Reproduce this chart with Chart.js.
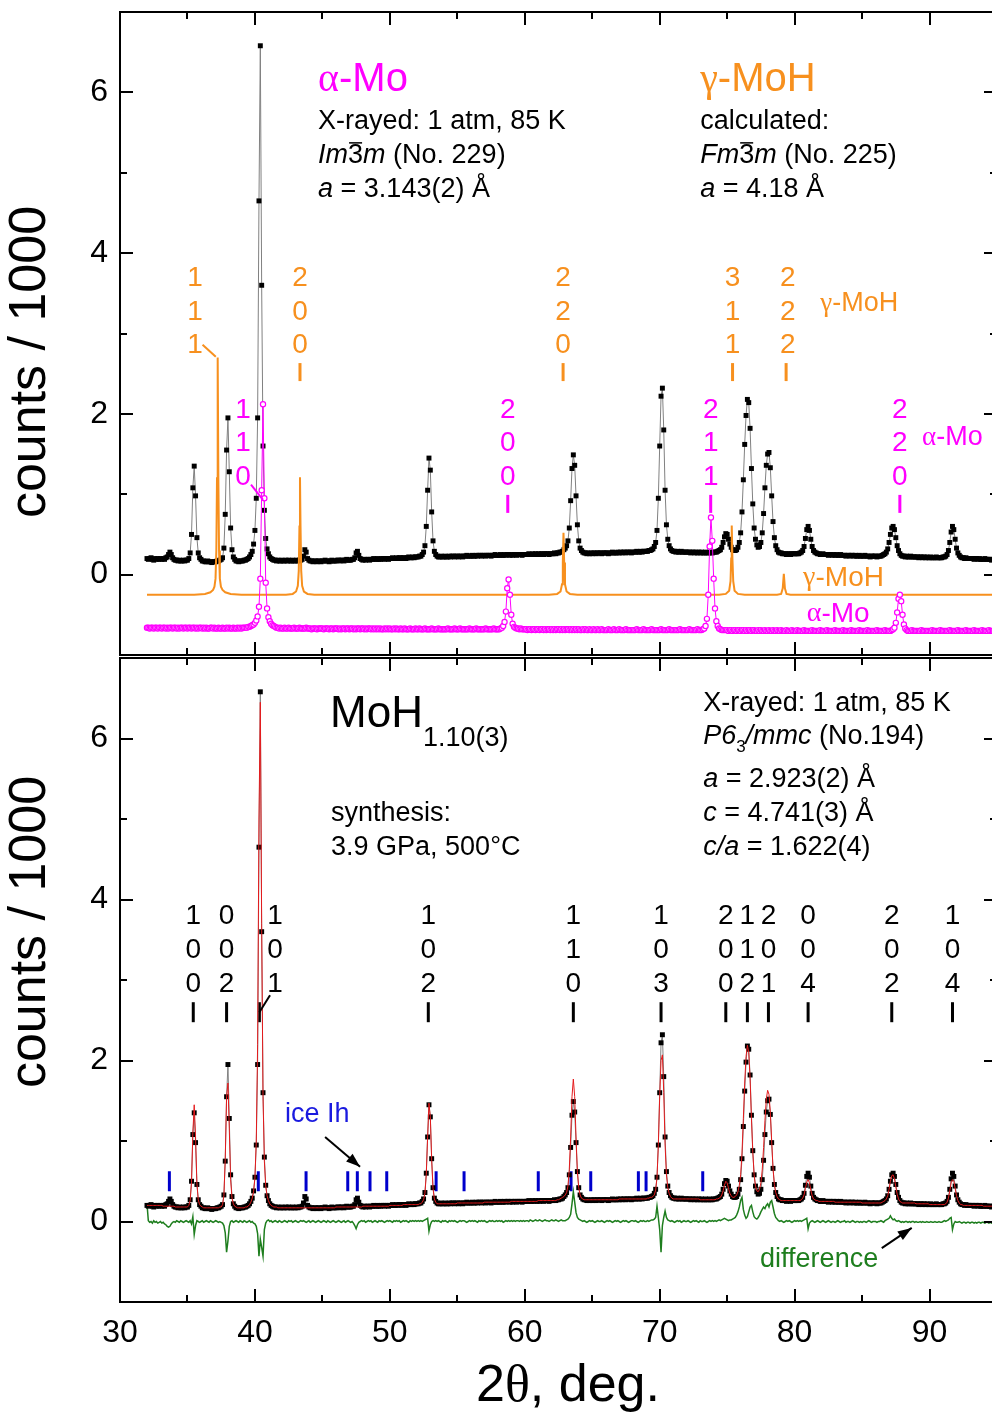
<!DOCTYPE html>
<html><head><meta charset="utf-8">
<script src="https://cdn.jsdelivr.net/npm/chart.js@4.4.1/dist/chart.umd.min.js"></script>
<style>
html,body{margin:0;padding:0;background:#fff;overflow:hidden;width:992px;height:1418px;}
#wrapA{position:absolute;left:0;top:0;width:1010px;height:667px;}
#wrapB{position:absolute;left:0;top:645px;width:1010px;height:773px;}
canvas{display:block;}
</style></head><body>
<div id="wrapA"><canvas id="cA" width="1010" height="667"></canvas></div>
<div id="wrapB"><canvas id="cB" width="1010" height="773"></canvas></div>
<script>
const SANS = '"Liberation Sans", Arial, Helvetica, sans-serif';
const SERIF = '"Liberation Serif", "Times New Roman", "DejaVu Serif", serif';
const MAG = '#ff00ff', ORG = '#f7901e', RED = '#e41a1c', GRN = '#1e7e1e', BLU = '#1a1adf';

// 2theta grid of the measured pattern
const gridStart = 32.0, gridStep = 0.1;

// observed intensity (counts/1000), 32.0 .. 95.0 deg
const observed = [
0.20,0.19,0.20,0.21,0.19,0.18,0.20,0.19,0.20,0.19,
0.20,0.19,0.20,0.19,0.21,0.22,0.25,0.28,0.25,0.21,
0.19,0.18,0.18,0.17,0.18,0.17,0.17,0.18,0.17,0.18,
0.18,0.20,0.27,0.50,1.08,1.35,0.98,0.46,0.27,0.21,
0.19,0.17,0.17,0.16,0.16,0.17,0.16,0.16,0.15,0.16,
0.16,0.16,0.17,0.17,0.18,0.19,0.21,0.33,0.75,1.55,
1.95,1.28,0.58,0.31,0.22,0.19,0.17,0.17,0.16,0.17,
0.17,0.17,0.18,0.18,0.19,0.20,0.22,0.25,0.29,0.38,
0.55,0.95,1.95,4.65,6.58,3.60,1.60,0.80,0.45,0.32,
0.26,0.22,0.20,0.19,0.18,0.18,0.17,0.18,0.17,0.17,
0.18,0.17,0.17,0.18,0.17,0.18,0.17,0.17,0.18,0.17,
0.17,0.18,0.17,0.18,0.18,0.19,0.23,0.31,0.28,0.20,
0.18,0.17,0.17,0.16,0.17,0.17,0.16,0.17,0.17,0.16,
0.17,0.17,0.18,0.17,0.17,0.16,0.17,0.18,0.17,0.17,
0.17,0.18,0.18,0.17,0.18,0.18,0.17,0.18,0.19,0.18,
0.18,0.18,0.19,0.19,0.21,0.27,0.29,0.24,0.20,0.19,
0.18,0.19,0.18,0.19,0.19,0.18,0.19,0.19,0.20,0.19,
0.19,0.20,0.19,0.19,0.20,0.20,0.19,0.20,0.20,0.19,
0.20,0.20,0.21,0.20,0.20,0.21,0.20,0.21,0.21,0.20,
0.21,0.21,0.20,0.21,0.22,0.21,0.21,0.22,0.21,0.22,
0.22,0.22,0.23,0.23,0.25,0.28,0.36,0.60,1.05,1.45,
1.30,0.78,0.42,0.29,0.25,0.23,0.22,0.22,0.23,0.22,
0.22,0.23,0.22,0.22,0.23,0.22,0.23,0.23,0.22,0.23,
0.23,0.22,0.23,0.23,0.22,0.23,0.23,0.24,0.23,0.23,
0.23,0.24,0.23,0.23,0.24,0.23,0.24,0.24,0.23,0.24,
0.24,0.23,0.24,0.24,0.24,0.23,0.24,0.24,0.25,0.24,
0.24,0.24,0.25,0.24,0.24,0.25,0.24,0.25,0.25,0.24,
0.25,0.24,0.25,0.25,0.24,0.25,0.25,0.25,0.24,0.25,
0.25,0.25,0.25,0.26,0.25,0.25,0.26,0.25,0.26,0.25,
0.26,0.25,0.26,0.26,0.25,0.26,0.26,0.26,0.25,0.26,
0.26,0.26,0.27,0.26,0.27,0.27,0.28,0.28,0.29,0.31,
0.33,0.36,0.42,0.58,0.92,1.32,1.49,1.36,0.98,0.62,
0.42,0.33,0.30,0.28,0.27,0.27,0.26,0.27,0.26,0.27,
0.26,0.27,0.27,0.26,0.27,0.27,0.27,0.26,0.27,0.27,
0.27,0.27,0.26,0.27,0.27,0.28,0.27,0.27,0.27,0.28,
0.27,0.28,0.27,0.28,0.28,0.27,0.28,0.28,0.28,0.27,
0.28,0.28,0.28,0.29,0.28,0.28,0.29,0.28,0.29,0.29,
0.29,0.29,0.30,0.30,0.31,0.32,0.35,0.40,0.55,0.95,
1.60,2.22,2.32,1.80,1.05,0.62,0.44,0.36,0.32,0.30,
0.29,0.29,0.28,0.29,0.28,0.28,0.29,0.28,0.28,0.28,
0.28,0.28,0.28,0.27,0.28,0.28,0.27,0.28,0.27,0.28,
0.27,0.28,0.27,0.27,0.28,0.27,0.27,0.28,0.27,0.27,
0.28,0.28,0.28,0.29,0.30,0.31,0.34,0.40,0.47,0.51,
0.50,0.44,0.38,0.34,0.31,0.30,0.30,0.31,0.34,0.40,
0.52,0.78,1.18,1.62,1.98,2.18,2.14,1.82,1.32,0.88,
0.58,0.44,0.37,0.34,0.35,0.40,0.52,0.76,1.08,1.36,
1.50,1.52,1.33,0.98,0.66,0.46,0.36,0.31,0.28,0.27,
0.27,0.26,0.26,0.26,0.25,0.26,0.26,0.25,0.26,0.26,
0.26,0.26,0.26,0.26,0.27,0.28,0.30,0.35,0.45,0.56,
0.60,0.55,0.44,0.35,0.30,0.28,0.27,0.26,0.26,0.25,
0.25,0.26,0.25,0.25,0.25,0.24,0.25,0.25,0.24,0.25,
0.24,0.25,0.24,0.24,0.25,0.24,0.24,0.24,0.23,0.24,
0.24,0.23,0.24,0.24,0.23,0.24,0.23,0.23,0.24,0.23,
0.23,0.23,0.24,0.23,0.23,0.23,0.22,0.23,0.23,0.23,
0.23,0.22,0.23,0.23,0.23,0.24,0.25,0.26,0.28,0.32,
0.40,0.50,0.58,0.60,0.56,0.46,0.36,0.30,0.26,0.24,
0.23,0.23,0.22,0.23,0.22,0.22,0.23,0.22,0.22,0.22,
0.22,0.22,0.21,0.22,0.22,0.21,0.22,0.21,0.22,0.21,
0.21,0.22,0.21,0.21,0.21,0.22,0.21,0.21,0.21,0.21,
0.22,0.22,0.23,0.25,0.30,0.40,0.53,0.60,0.56,0.44,
0.33,0.27,0.24,0.22,0.21,0.21,0.20,0.21,0.20,0.20,
0.20,0.20,0.20,0.19,0.20,0.20,0.19,0.20,0.19,0.19,
0.19,0.20,0.19,0.19,0.19,0.19,0.18,0.19,0.19,0.19,
0.19];

// Rietveld calculated profile (MoH1.10)
const calculated = [
0.20,0.20,0.20,0.20,0.20,0.20,0.20,0.20,0.20,0.20,
0.20,0.20,0.19,0.19,0.19,0.19,0.19,0.19,0.19,0.19,
0.19,0.18,0.18,0.18,0.18,0.18,0.18,0.18,0.18,0.18,
0.18,0.20,0.26,0.48,1.10,1.45,1.05,0.48,0.27,0.21,
0.19,0.18,0.17,0.17,0.17,0.17,0.17,0.17,0.17,0.17,
0.17,0.17,0.17,0.17,0.18,0.18,0.21,0.32,0.78,1.55,
1.72,1.15,0.52,0.29,0.22,0.19,0.18,0.17,0.17,0.17,
0.17,0.17,0.17,0.18,0.18,0.19,0.21,0.24,0.29,0.37,
0.54,1.00,2.20,5.00,6.45,3.70,1.55,0.75,0.44,0.32,
0.26,0.22,0.20,0.19,0.18,0.18,0.18,0.17,0.17,0.17,
0.17,0.17,0.17,0.17,0.17,0.17,0.17,0.17,0.17,0.17,
0.17,0.17,0.17,0.17,0.17,0.17,0.17,0.17,0.17,0.17,
0.17,0.17,0.17,0.17,0.17,0.17,0.17,0.17,0.17,0.17,
0.17,0.17,0.17,0.17,0.17,0.17,0.17,0.17,0.17,0.17,
0.18,0.18,0.18,0.18,0.18,0.18,0.18,0.18,0.18,0.18,
0.18,0.18,0.18,0.18,0.18,0.18,0.18,0.18,0.18,0.18,
0.19,0.19,0.19,0.19,0.19,0.19,0.19,0.19,0.19,0.19,
0.19,0.19,0.19,0.19,0.19,0.19,0.19,0.19,0.19,0.19,
0.20,0.20,0.20,0.20,0.20,0.20,0.20,0.20,0.20,0.20,
0.21,0.21,0.21,0.21,0.21,0.21,0.21,0.21,0.21,0.21,
0.21,0.21,0.22,0.22,0.24,0.27,0.35,0.58,1.05,1.47,
1.30,0.76,0.41,0.28,0.24,0.22,0.22,0.22,0.22,0.22,
0.22,0.22,0.22,0.22,0.22,0.22,0.22,0.22,0.22,0.22,
0.23,0.23,0.23,0.23,0.23,0.23,0.23,0.23,0.23,0.23,
0.23,0.23,0.23,0.23,0.23,0.23,0.23,0.23,0.23,0.23,
0.24,0.24,0.24,0.24,0.24,0.24,0.24,0.24,0.24,0.24,
0.24,0.24,0.24,0.24,0.24,0.24,0.24,0.24,0.24,0.24,
0.25,0.25,0.25,0.25,0.25,0.25,0.25,0.25,0.25,0.25,
0.25,0.25,0.25,0.25,0.25,0.25,0.25,0.25,0.25,0.25,
0.26,0.26,0.26,0.26,0.26,0.26,0.26,0.26,0.26,0.26,
0.26,0.26,0.26,0.26,0.27,0.27,0.28,0.29,0.30,0.31,
0.33,0.36,0.44,0.65,1.05,1.55,1.77,1.55,1.05,0.62,
0.42,0.33,0.29,0.28,0.27,0.27,0.27,0.27,0.27,0.27,
0.27,0.27,0.27,0.27,0.27,0.27,0.27,0.27,0.27,0.27,
0.27,0.27,0.27,0.27,0.27,0.27,0.27,0.27,0.27,0.27,
0.28,0.28,0.28,0.28,0.28,0.28,0.28,0.28,0.28,0.28,
0.28,0.28,0.28,0.28,0.28,0.28,0.28,0.28,0.28,0.28,
0.28,0.29,0.29,0.30,0.30,0.31,0.33,0.39,0.54,0.95,
1.55,2.00,2.07,1.60,0.95,0.58,0.42,0.35,0.31,0.29,
0.28,0.28,0.28,0.28,0.28,0.28,0.28,0.28,0.28,0.28,
0.28,0.28,0.28,0.28,0.28,0.28,0.28,0.28,0.28,0.28,
0.27,0.27,0.27,0.27,0.27,0.27,0.27,0.27,0.27,0.27,
0.27,0.27,0.28,0.28,0.29,0.30,0.33,0.38,0.45,0.50,
0.48,0.41,0.35,0.32,0.30,0.30,0.31,0.33,0.37,0.45,
0.58,0.85,1.28,1.72,2.05,2.19,2.10,1.78,1.28,0.86,
0.58,0.44,0.38,0.37,0.40,0.48,0.64,0.92,1.25,1.52,
1.63,1.58,1.36,1.00,0.66,0.46,0.36,0.31,0.28,0.27,
0.26,0.26,0.26,0.26,0.26,0.26,0.26,0.26,0.26,0.26,
0.26,0.26,0.26,0.26,0.26,0.27,0.29,0.33,0.41,0.49,
0.52,0.48,0.39,0.32,0.28,0.27,0.26,0.26,0.25,0.25,
0.25,0.25,0.25,0.25,0.25,0.25,0.25,0.25,0.25,0.25,
0.24,0.24,0.24,0.24,0.24,0.24,0.24,0.24,0.24,0.24,
0.24,0.24,0.24,0.24,0.24,0.24,0.24,0.24,0.24,0.24,
0.23,0.23,0.23,0.23,0.23,0.23,0.23,0.23,0.23,0.23,
0.23,0.23,0.23,0.23,0.23,0.24,0.25,0.26,0.28,0.32,
0.40,0.50,0.57,0.58,0.53,0.43,0.34,0.28,0.25,0.24,
0.23,0.23,0.23,0.23,0.23,0.23,0.23,0.23,0.23,0.23,
0.22,0.22,0.22,0.22,0.22,0.22,0.22,0.22,0.22,0.22,
0.21,0.21,0.21,0.21,0.21,0.21,0.21,0.21,0.21,0.21,
0.21,0.21,0.22,0.24,0.29,0.38,0.48,0.52,0.50,0.41,
0.32,0.26,0.23,0.21,0.21,0.20,0.20,0.20,0.20,0.20,
0.20,0.20,0.20,0.20,0.20,0.20,0.20,0.20,0.20,0.20,
0.19,0.19,0.19,0.19,0.19,0.19,0.19,0.19,0.19,0.19,
0.19];

// observed - calculated
const difference = [
0.22,0.01,-0.01,0.00,-0.02,0.01,-0.01,0.00,-0.02,-0.01,
0.00,-0.02,-0.01,-0.03,-0.04,-0.06,-0.07,-0.06,-0.03,-0.01,
0.00,-0.01,0.01,0.00,-0.01,0.01,0.00,-0.01,0.00,0.01,
0.00,-0.01,0.01,-0.03,0.06,-0.16,-0.05,0.01,0.00,-0.01,
0.00,0.01,-0.01,0.00,0.01,0.00,-0.01,0.01,0.00,-0.01,
0.00,0.01,0.00,-0.01,0.00,-0.01,-0.02,-0.05,-0.14,-0.38,
-0.24,-0.06,0.00,0.01,-0.01,0.00,0.01,0.00,-0.01,0.01,
0.00,-0.01,0.01,0.00,-0.01,0.00,0.01,-0.01,0.00,-0.02,
-0.03,-0.06,-0.15,-0.43,-0.22,-0.32,-0.43,-0.10,-0.02,0.01,
0.02,0.00,0.01,-0.01,0.00,0.01,0.00,-0.01,0.01,0.00,
-0.01,0.00,0.01,0.00,-0.01,0.01,0.00,0.01,-0.01,0.00,
0.01,0.00,-0.01,0.00,0.01,0.00,0.01,0.00,-0.01,0.00,
0.01,-0.01,0.00,0.01,0.00,-0.01,0.00,0.01,0.00,-0.01,
0.00,0.01,0.00,-0.01,0.01,0.00,-0.01,0.00,0.01,0.00,
-0.01,0.00,0.01,0.00,-0.01,0.00,0.01,-0.01,0.00,0.01,
0.00,-0.01,0.00,-0.02,-0.05,-0.09,-0.04,-0.01,0.00,0.01,
0.00,0.01,-0.01,0.00,0.01,0.00,0.01,-0.01,0.00,0.01,
0.00,-0.01,0.01,0.00,0.01,0.00,-0.01,0.00,0.01,0.00,
0.01,0.00,-0.01,0.01,0.00,0.01,0.00,0.01,-0.01,0.00,
0.01,0.00,0.01,0.00,-0.01,0.01,0.00,0.01,0.00,0.01,
0.00,0.01,0.00,0.01,0.00,0.01,0.02,0.03,0.04,-0.12,
-0.04,0.00,0.01,0.00,0.01,0.00,0.01,0.00,-0.01,0.01,
0.00,0.01,0.00,-0.01,0.01,0.00,0.01,0.00,0.01,0.00,
-0.01,0.00,0.01,0.00,0.01,0.01,0.00,-0.01,0.00,0.01,
0.00,0.01,0.00,0.01,0.00,-0.01,0.01,0.00,0.01,0.00,
0.01,0.00,-0.01,0.00,0.01,0.00,0.01,0.00,0.00,0.01,
0.00,0.01,0.00,0.01,-0.01,0.00,0.01,0.00,0.01,0.00,
0.01,0.00,0.01,0.00,0.01,0.01,0.00,0.01,0.00,0.01,
0.00,0.01,0.01,0.00,0.02,0.01,0.00,0.01,0.02,0.01,
0.01,0.02,0.01,0.00,0.01,0.02,0.01,0.01,0.00,0.01,
0.02,0.01,0.01,0.02,0.01,0.00,0.01,0.02,0.01,0.01,
0.01,0.02,0.03,0.05,0.09,0.22,0.37,0.24,0.11,0.05,
0.03,0.02,0.01,0.00,0.01,0.00,-0.01,0.00,0.01,0.00,
0.01,0.00,-0.01,0.00,0.01,0.00,0.00,0.01,0.00,-0.01,
0.00,0.01,0.00,0.01,0.00,-0.01,0.00,0.01,0.00,0.01,
0.00,-0.01,0.00,0.01,0.00,0.01,0.00,-0.01,0.00,0.01,
0.01,0.00,0.01,0.00,-0.01,0.00,0.01,0.00,0.01,0.00,
0.00,0.01,0.00,0.01,0.02,0.02,0.03,0.05,0.19,0.05,
-0.10,-0.38,-0.05,0.05,0.13,0.05,0.02,0.01,0.00,0.01,
0.00,-0.01,0.00,0.01,0.00,0.01,-0.01,0.00,0.01,0.00,
0.00,0.01,0.00,-0.01,0.00,0.01,0.00,0.01,0.00,-0.01,
0.01,0.00,0.00,0.01,0.00,-0.01,0.00,0.01,0.00,0.01,
0.00,0.01,0.00,0.01,0.02,0.01,0.02,0.03,0.04,0.03,
0.02,0.01,0.02,0.02,0.03,0.04,0.05,0.08,0.12,0.18,
0.26,0.30,0.15,0.08,0.04,0.06,0.12,0.18,0.20,0.12,
0.06,0.04,0.03,0.05,0.08,0.12,0.15,0.18,0.16,0.20,
0.22,0.18,0.24,0.26,0.18,0.10,0.05,0.03,0.01,0.00,
0.01,0.00,-0.01,0.00,0.01,0.00,0.01,0.00,-0.01,0.00,
0.01,0.00,0.01,0.00,0.01,0.00,0.01,0.02,0.03,0.04,
-0.09,-0.02,0.00,0.01,0.00,-0.01,0.00,0.01,0.00,-0.01,
0.00,0.01,0.00,-0.01,0.00,0.01,0.00,-0.01,0.00,0.00,
-0.01,0.00,0.01,0.00,-0.01,0.00,0.00,0.01,-0.01,0.00,
0.00,-0.01,0.00,0.01,0.00,-0.01,0.00,0.00,-0.01,0.00,
-0.01,0.00,0.00,-0.01,0.00,0.01,0.00,-0.01,0.00,0.00,
0.00,-0.01,0.00,0.00,0.01,0.00,-0.01,0.01,0.02,0.03,
0.04,0.07,0.04,0.02,0.03,0.01,0.00,0.01,0.00,-0.01,
0.00,-0.01,0.00,0.00,-0.01,0.00,-0.01,0.00,0.00,-0.01,
0.00,-0.01,-0.01,0.00,-0.01,0.00,-0.01,-0.01,0.00,-0.01,
-0.01,0.00,-0.01,-0.01,0.00,-0.01,-0.01,0.00,-0.01,-0.01,
0.00,0.01,0.00,0.01,0.02,0.04,0.05,-0.10,-0.03,0.00,
-0.01,-0.01,0.00,-0.01,-0.02,-0.01,-0.01,-0.02,-0.01,-0.01,
-0.02,-0.01,-0.01,-0.02,-0.01,-0.02,-0.01,-0.01,-0.02,-0.01,
-0.01,-0.02,-0.01,-0.01,-0.02,-0.01,-0.02,-0.01,-0.01,-0.02,
-0.01];

// alpha-Mo reference pattern (offset)
const alphaMo = [
-0.66,-0.66,-0.67,-0.66,-0.66,-0.67,-0.66,-0.66,-0.67,-0.66,
-0.66,-0.67,-0.66,-0.66,-0.67,-0.66,-0.67,-0.66,-0.66,-0.67,
-0.66,-0.66,-0.67,-0.66,-0.67,-0.66,-0.66,-0.67,-0.66,-0.66,
-0.67,-0.66,-0.66,-0.67,-0.66,-0.66,-0.67,-0.66,-0.67,-0.66,
-0.66,-0.67,-0.66,-0.67,-0.66,-0.67,-0.67,-0.66,-0.66,-0.67,
-0.66,-0.67,-0.67,-0.66,-0.67,-0.67,-0.66,-0.67,-0.67,-0.66,
-0.67,-0.66,-0.67,-0.67,-0.66,-0.67,-0.67,-0.66,-0.67,-0.66,
-0.67,-0.66,-0.66,-0.66,-0.66,-0.65,-0.65,-0.64,-0.63,-0.62,
-0.60,-0.57,-0.52,-0.40,-0.05,1.05,2.12,0.95,-0.10,-0.42,
-0.53,-0.58,-0.61,-0.63,-0.64,-0.65,-0.66,-0.66,-0.67,-0.66,
-0.67,-0.67,-0.66,-0.67,-0.67,-0.66,-0.67,-0.67,-0.67,-0.66,
-0.67,-0.67,-0.67,-0.66,-0.67,-0.67,-0.67,-0.67,-0.66,-0.67,
-0.67,-0.67,-0.68,-0.67,-0.67,-0.67,-0.68,-0.67,-0.67,-0.67,
-0.67,-0.68,-0.67,-0.67,-0.67,-0.68,-0.67,-0.67,-0.68,-0.67,
-0.67,-0.67,-0.68,-0.67,-0.68,-0.67,-0.67,-0.68,-0.67,-0.67,
-0.68,-0.67,-0.67,-0.68,-0.67,-0.68,-0.67,-0.67,-0.68,-0.67,
-0.67,-0.68,-0.67,-0.68,-0.67,-0.67,-0.68,-0.67,-0.68,-0.67,
-0.68,-0.67,-0.68,-0.67,-0.68,-0.68,-0.67,-0.68,-0.67,-0.68,
-0.67,-0.68,-0.68,-0.67,-0.68,-0.67,-0.68,-0.68,-0.67,-0.68,
-0.68,-0.67,-0.68,-0.68,-0.68,-0.67,-0.68,-0.68,-0.68,-0.67,
-0.68,-0.68,-0.67,-0.68,-0.68,-0.68,-0.67,-0.68,-0.68,-0.68,
-0.68,-0.67,-0.68,-0.68,-0.68,-0.68,-0.67,-0.68,-0.68,-0.68,
-0.68,-0.68,-0.68,-0.67,-0.68,-0.68,-0.68,-0.68,-0.67,-0.68,
-0.68,-0.68,-0.67,-0.68,-0.68,-0.68,-0.68,-0.68,-0.68,-0.67,
-0.68,-0.68,-0.68,-0.68,-0.67,-0.68,-0.68,-0.68,-0.68,-0.68,
-0.68,-0.67,-0.68,-0.68,-0.68,-0.68,-0.68,-0.67,-0.68,-0.68,
-0.68,-0.68,-0.67,-0.66,-0.64,-0.59,-0.46,-0.17,-0.06,-0.25,
-0.50,-0.61,-0.65,-0.66,-0.67,-0.67,-0.68,-0.67,-0.68,-0.68,
-0.68,-0.68,-0.69,-0.68,-0.68,-0.69,-0.68,-0.68,-0.69,-0.68,
-0.68,-0.69,-0.68,-0.68,-0.69,-0.68,-0.69,-0.68,-0.68,-0.69,
-0.68,-0.69,-0.68,-0.69,-0.68,-0.68,-0.69,-0.68,-0.69,-0.68,
-0.69,-0.68,-0.68,-0.69,-0.68,-0.69,-0.68,-0.69,-0.68,-0.69,
-0.68,-0.69,-0.69,-0.68,-0.69,-0.68,-0.69,-0.69,-0.68,-0.69,
-0.69,-0.68,-0.69,-0.69,-0.68,-0.69,-0.69,-0.68,-0.69,-0.69,
-0.69,-0.69,-0.68,-0.69,-0.69,-0.69,-0.68,-0.69,-0.69,-0.69,
-0.68,-0.69,-0.69,-0.69,-0.69,-0.68,-0.69,-0.69,-0.69,-0.69,
-0.69,-0.69,-0.69,-0.68,-0.69,-0.69,-0.69,-0.69,-0.68,-0.69,
-0.69,-0.69,-0.69,-0.69,-0.68,-0.69,-0.69,-0.69,-0.69,-0.69,
-0.69,-0.68,-0.69,-0.69,-0.69,-0.69,-0.69,-0.68,-0.69,-0.69,
-0.69,-0.69,-0.69,-0.69,-0.69,-0.68,-0.69,-0.69,-0.69,-0.69,
-0.69,-0.69,-0.68,-0.69,-0.69,-0.69,-0.69,-0.69,-0.68,-0.69,
-0.69,-0.69,-0.68,-0.67,-0.64,-0.55,-0.25,0.35,0.71,0.42,
-0.05,-0.42,-0.58,-0.64,-0.67,-0.68,-0.69,-0.69,-0.69,-0.69,
-0.69,-0.70,-0.69,-0.69,-0.70,-0.69,-0.69,-0.70,-0.69,-0.69,
-0.70,-0.69,-0.69,-0.70,-0.69,-0.70,-0.69,-0.69,-0.70,-0.69,
-0.69,-0.70,-0.70,-0.69,-0.70,-0.69,-0.70,-0.70,-0.69,-0.70,
-0.70,-0.69,-0.70,-0.70,-0.69,-0.70,-0.70,-0.69,-0.70,-0.70,
-0.69,-0.70,-0.70,-0.70,-0.69,-0.70,-0.70,-0.70,-0.69,-0.70,
-0.70,-0.70,-0.69,-0.70,-0.70,-0.70,-0.70,-0.69,-0.70,-0.70,
-0.70,-0.70,-0.70,-0.69,-0.70,-0.70,-0.70,-0.70,-0.70,-0.69,
-0.70,-0.70,-0.70,-0.70,-0.69,-0.70,-0.70,-0.70,-0.70,-0.70,
-0.69,-0.70,-0.70,-0.70,-0.70,-0.70,-0.69,-0.70,-0.70,-0.70,
-0.70,-0.70,-0.69,-0.70,-0.70,-0.70,-0.70,-0.70,-0.69,-0.70,
-0.70,-0.70,-0.70,-0.70,-0.69,-0.70,-0.70,-0.70,-0.70,-0.70,
-0.70,-0.69,-0.70,-0.70,-0.70,-0.70,-0.70,-0.69,-0.70,-0.70,
-0.70,-0.70,-0.69,-0.68,-0.66,-0.60,-0.47,-0.30,-0.25,-0.33,
-0.50,-0.62,-0.67,-0.69,-0.70,-0.70,-0.70,-0.69,-0.70,-0.70,
-0.70,-0.70,-0.70,-0.70,-0.69,-0.70,-0.70,-0.70,-0.70,-0.70,
-0.70,-0.70,-0.69,-0.70,-0.70,-0.70,-0.70,-0.70,-0.69,-0.70,
-0.70,-0.70,-0.70,-0.70,-0.70,-0.69,-0.70,-0.70,-0.70,-0.70,
-0.70,-0.69,-0.70,-0.70,-0.70,-0.70,-0.70,-0.69,-0.70,-0.70,
-0.70,-0.70,-0.70,-0.69,-0.70,-0.70,-0.70,-0.70,-0.70,-0.69,
-0.70,-0.70,-0.70,-0.70,-0.69,-0.70,-0.70,-0.70,-0.70,-0.70,
-0.70];

// gamma-MoH calculated pattern (offset), [2theta, counts/1000]
const gammaMoH = [
[32.0,-0.25],[34.0,-0.25],[35.5,-0.25],[36.3,-0.24],[36.7,-0.22],[36.9,-0.19],[37.0,-0.15],[37.08,-0.05],[37.14,0.3],[37.19,1.2],[37.24,2.70],[37.29,1.2],[37.34,0.3],[37.40,-0.05],[37.48,-0.15],[37.6,-0.19],[37.8,-0.22],[38.2,-0.24],[39.0,-0.25],
[42.3,-0.25],[42.8,-0.24],[43.05,-0.21],[43.18,-0.14],[43.25,0.05],[43.30,0.6],[43.34,1.21],[43.38,0.6],[43.43,0.05],[43.5,-0.14],[43.63,-0.21],[43.9,-0.24],[44.4,-0.25],
[61.8,-0.25],[62.4,-0.24],[62.65,-0.21],[62.76,-0.12],[62.82,0.15],[62.87,0.52],[62.92,0.15],[62.98,-0.12],[63.1,-0.21],[63.35,-0.24],[63.9,-0.25],
[74.4,-0.25],[74.9,-0.24],[75.15,-0.20],[75.25,-0.08],[75.30,0.2],[75.34,0.61],[75.39,0.2],[75.45,-0.08],[75.55,-0.20],[75.8,-0.24],[76.3,-0.25],
[78.7,-0.25],[79.0,-0.24],[79.12,-0.17],[79.2,0.01],[79.28,-0.17],[79.4,-0.24],[79.7,-0.25],
[95.0,-0.25]];

// axis ticks
const xMajorTicks = [30,40,50,60,70,80,90];
const xMinorTicks = [35,45,55,65,75,85];
const yMajorTicks = [0,2,4,6];
const yMinorTicks = [1,3,5];

// reflection markers and hkl labels
const gammaHkl = ['111','200','220','311','222'];
const gammaLabelX = [35.56,43.34,62.84,75.40,79.50];
const gammaTickX = [43.34,62.84,75.40,79.37];
const alphaHkl = ['110','200','211','220'];
const alphaLabelX = [39.12,58.74,73.78,87.80];
const alphaTickX = [58.74,73.78,87.80];
const mohHkl = ['100','002','101','102','110','103','200','112','201','004','202','104'];
const mohTickX = [35.43,37.90,40.33,52.85,63.60,70.10,74.90,76.50,78.06,81.00,87.20,91.70];
const mohLabelX = [35.43,37.90,41.49,52.85,63.60,70.10,74.90,76.50,78.06,81.00,87.20,91.70];
const iceTickX = [33.66,40.25,43.79,46.88,47.59,48.53,49.77,53.43,55.50,61.00,63.43,64.89,68.42,68.99,73.19];

const toXY = arr => arr.map((v, i) => ({x: +(gridStart + i * gridStep).toFixed(2), y: v}));
const fromPairs = arr => arr.map(([x, y]) => ({x, y}));
const atY = (xs, y) => xs.map(x => ({x, y}));

const F27 = `27px ${SANS}`, I27 = `italic 27px ${SANS}`;

function drawRuns(ctx, x, y, runs, align) {
  let w = 0;
  runs.forEach(r => { ctx.font = r.f; w += ctx.measureText(r.t).width; });
  let cx = align === 'center' ? x - w / 2 : x;
  ctx.textBaseline = 'middle'; ctx.textAlign = 'left';
  runs.forEach(r => {
    ctx.font = r.f; ctx.fillStyle = r.c || '#000';
    const ww = ctx.measureText(r.t).width;
    const yy = y + (r.dy || 0);
    ctx.fillText(r.t, cx, yy);
    if (r.over) {
      ctx.strokeStyle = r.c || '#000'; ctx.lineWidth = 1.5;
      ctx.beginPath(); ctx.moveTo(cx + 1, yy - r.over); ctx.lineTo(cx + ww - 1, yy - r.over); ctx.stroke();
    }
    cx += ww;
  });
}

function drawHead(ctx, x1, y1, x2, y2, color) {
  const ang = Math.atan2(y2 - y1, x2 - x1), L = 14, H = 5;
  ctx.fillStyle = color;
  ctx.beginPath();
  ctx.moveTo(x2, y2);
  ctx.lineTo(x2 - L * Math.cos(ang) + H * Math.sin(ang), y2 - L * Math.sin(ang) - H * Math.cos(ang));
  ctx.lineTo(x2 - L * Math.cos(ang) - H * Math.sin(ang), y2 - L * Math.sin(ang) + H * Math.cos(ang));
  ctx.closePath(); ctx.fill();
}

function makeDeco(spec) {
  return {
    id: 'deco' + spec.name,
    afterDraw(chart) {
      const {ctx, chartArea: a, scales: {x, y}} = chart;
      const X = v => x.getPixelForValue(v), Y = v => y.getPixelForValue(v);
      ctx.save();
      // frame + inward ticks
      ctx.strokeStyle = '#000'; ctx.lineWidth = 2;
      ctx.strokeRect(a.left, a.top, a.right - a.left, a.bottom - a.top);
      ctx.beginPath();
      const xt = (v, L) => { const p = Math.round(X(v)); ctx.moveTo(p, a.bottom); ctx.lineTo(p, a.bottom - L); ctx.moveTo(p, a.top); ctx.lineTo(p, a.top + L); };
      const yt = (v, L) => { const p = Math.round(Y(v)); ctx.moveTo(a.left, p); ctx.lineTo(a.left + L, p); ctx.moveTo(a.right, p); ctx.lineTo(a.right - L, p); };
      xMajorTicks.forEach(v => xt(v, 13)); xMinorTicks.forEach(v => xt(v, 7));
      yMajorTicks.forEach(v => yt(v, 13)); yMinorTicks.forEach(v => yt(v, 7));
      ctx.stroke();
      // connectors / arrows
      (spec.lines || []).forEach(l => {
        ctx.strokeStyle = l.c; ctx.lineWidth = l.w || 2;
        const x1 = X(l.x1), y1 = Y(l.y1), x2 = X(l.x2), y2 = Y(l.y2);
        ctx.beginPath(); ctx.moveTo(x1, y1); ctx.lineTo(x2, y2); ctx.stroke();
        if (l.arrow) drawHead(ctx, x1, y1, x2, y2, l.c);
      });
      // hkl digits
      (spec.hkl || []).forEach(h => {
        ctx.font = h.f; ctx.fillStyle = h.c; ctx.textAlign = 'center'; ctx.textBaseline = 'middle';
        h.labels.forEach((lab, i) => {
          [...lab].forEach((ch, k) => ctx.fillText(ch, X(h.xs[i]), Y(h.rows[k])));
        });
      });
      // texts
      (spec.texts || []).forEach(t => drawRuns(ctx, X(t.x), Y(t.y), t.runs, t.align));
      // y-axis title
      ctx.save();
      ctx.translate(31, spec.yTitleY);
      ctx.rotate(-Math.PI / 2);
      drawRuns(ctx, 0, 0, [{t: 'counts / 1000', f: `52px ${SANS}`}], 'center');
      ctx.restore();
      if (spec.xTitle) drawRuns(ctx, spec.xTitle.x, spec.xTitle.y, spec.xTitle.runs, 'center');
      ctx.restore();
    }
  };
}

Chart.defaults.font.family = SANS;
Chart.defaults.color = '#000';

function yScale() {
  return {
    type: 'linear', min: -1, max: 7,
    afterBuildTicks: s => { s.ticks = yMajorTicks.map(v => ({value: v})); },
    afterFit: s => { s.width = 120; s.paddingTop = 0; s.paddingBottom = 0; },
    grid: {display: false, drawTicks: false}, border: {display: false},
    ticks: {font: {size: 32, family: SANS}, color: '#000', padding: 12}
  };
}

// ---------- top panel ----------
const topSpec = {
  name: 'A', yTitleY: 362,
  lines: [
    {x1: 36.12, y1: 2.86, x2: 37.10, y2: 2.71, c: ORG, w: 2},
    {x1: 39.71, y1: 1.12, x2: 40.60, y2: 0.93, c: MAG, w: 2}
  ],
  hkl: [
    {labels: gammaHkl, xs: gammaLabelX, rows: [3.69, 3.27, 2.85], f: `28px ${SANS}`, c: ORG},
    {labels: alphaHkl, xs: alphaLabelX, rows: [2.04, 1.63, 1.21], f: `28px ${SANS}`, c: MAG}
  ],
  texts: [
    {x: 44.68, y: 6.15, runs: [{t: 'α', f: `40px ${SERIF}`, c: MAG}, {t: '-Mo', f: `40px ${SANS}`, c: MAG}]},
    {x: 44.68, y: 5.64, runs: [{t: 'X-rayed: 1 atm, 85 K', f: F27}]},
    {x: 44.68, y: 5.21, runs: [{t: 'Im', f: I27}, {t: '3', f: F27, over: 13}, {t: 'm', f: I27}, {t: ' (No. 229)', f: F27}]},
    {x: 44.68, y: 4.79, runs: [{t: 'a', f: I27}, {t: ' = 3.143(2) Å', f: F27}]},
    {x: 73.0, y: 6.15, runs: [{t: 'γ', f: `40px ${SERIF}`, c: ORG}, {t: '-MoH', f: `40px ${SANS}`, c: ORG}]},
    {x: 73.0, y: 5.64, runs: [{t: 'calculated:', f: F27}]},
    {x: 73.0, y: 5.21, runs: [{t: 'Fm', f: I27}, {t: '3', f: F27, over: 13}, {t: 'm', f: I27}, {t: ' (No. 225)', f: F27}]},
    {x: 73.0, y: 4.79, runs: [{t: 'a', f: I27}, {t: ' = 4.18 Å', f: F27}]},
    {x: 81.9, y: 3.37, runs: [{t: 'γ', f: `27px ${SERIF}`, c: ORG}, {t: '-MoH', f: F27, c: ORG}]},
    {x: 89.45, y: 1.70, runs: [{t: 'α', f: `27px ${SERIF}`, c: MAG}, {t: '-Mo', f: F27, c: MAG}]},
    {x: 80.63, y: -0.04, runs: [{t: 'γ', f: `28px ${SERIF}`, c: ORG}, {t: '-MoH', f: `28px ${SANS}`, c: ORG}]},
    {x: 80.90, y: -0.49, runs: [{t: 'α', f: `28px ${SERIF}`, c: MAG}, {t: '-Mo', f: `28px ${SANS}`, c: MAG}]}
  ]
};

new Chart(document.getElementById('cA'), {
  type: 'line',
  data: {datasets: [
    {label: 'alpha-Mo', data: toXY(alphaMo), order: 0, borderColor: MAG, borderWidth: 1,
     pointStyle: 'circle', pointRadius: 2.6, pointBorderWidth: 1.2, pointBorderColor: MAG, pointBackgroundColor: '#fff'},
    {label: 'gamma-MoH', data: fromPairs(gammaMoH), order: 1, borderColor: ORG, borderWidth: 2, pointRadius: 0},
    {label: 'observed', data: toXY(observed), order: 2, borderColor: '#808080', borderWidth: 1,
     pointStyle: 'rect', pointRadius: 3.5, pointBorderWidth: 0, pointBackgroundColor: '#000'},
    {label: 'gamma ticks', data: atY(gammaTickX, 2.52), order: 3, showLine: false, pointStyle: 'line', pointRotation: 90,
     pointRadius: 9, pointBorderWidth: 3, pointBorderColor: ORG},
    {label: 'alpha ticks', data: atY(alphaTickX, 0.88), order: 3, showLine: false, pointStyle: 'line', pointRotation: 90,
     pointRadius: 9, pointBorderWidth: 3, pointBorderColor: MAG}
  ]},
  options: {
    responsive: false, animation: false, devicePixelRatio: 1, events: [],
    layout: {padding: {top: 10, right: 13, bottom: 5, left: 0}},
    plugins: {legend: {display: false}, tooltip: {enabled: false}},
    scales: {
      x: {type: 'linear', min: 30, max: 95, display: false},
      y: yScale()
    }
  },
  plugins: [makeDeco(topSpec)]
});

// ---------- bottom panel ----------
const botSpec = {
  name: 'B', yTitleY: 287,
  lines: [
    {x1: 41.12, y1: 2.81, x2: 40.33, y2: 2.60, c: '#000', w: 2},
    {x1: 45.2, y1: 1.05, x2: 47.79, y2: 0.68, c: '#000', w: 2, arrow: true},
    {x1: 86.46, y1: -0.33, x2: 88.68, y2: -0.08, c: '#000', w: 2, arrow: true}
  ],
  hkl: [
    {labels: mohHkl, xs: mohLabelX, rows: [3.79, 3.37, 2.95], f: `28px ${SANS}`, c: '#000'}
  ],
  texts: [
    {x: 45.57, y: 6.29, runs: [{t: 'MoH', f: `44px ${SANS}`}, {t: '1.10(3)', f: F27, dy: 23}]},
    {x: 45.64, y: 5.07, runs: [{t: 'synthesis:', f: F27}]},
    {x: 45.64, y: 4.65, runs: [{t: '3.9 GPa, 500°C', f: F27}]},
    {x: 73.22, y: 6.44, runs: [{t: 'X-rayed: 1 atm, 85 K', f: F27}]},
    {x: 73.22, y: 6.02, runs: [{t: 'P6', f: I27}, {t: '3', f: `17px ${SANS}`, dy: 10}, {t: '/mmc', f: I27}, {t: ' (No.194)', f: F27}]},
    {x: 73.22, y: 5.49, runs: [{t: 'a', f: I27}, {t: ' = 2.923(2) Å', f: F27}]},
    {x: 73.22, y: 5.07, runs: [{t: 'c', f: I27}, {t: ' = 4.741(3) Å', f: F27}]},
    {x: 73.22, y: 4.65, runs: [{t: 'c/a', f: I27}, {t: ' = 1.622(4)', f: F27}]},
    {x: 42.23, y: 1.33, runs: [{t: 'ice Ih', f: F27, c: BLU}]},
    {x: 77.44, y: -0.47, runs: [{t: 'difference', f: F27, c: GRN}]}
  ],
  xTitle: {x: 568, y: 742, runs: [{t: '2', f: `52px ${SANS}`}, {t: 'θ', f: `52px ${SERIF}`}, {t: ', deg.', f: `52px ${SANS}`}]}
};

new Chart(document.getElementById('cB'), {
  type: 'line',
  data: {datasets: [
    {label: 'calculated', data: toXY(calculated), order: 0, borderColor: RED, borderWidth: 1, pointRadius: 0},
    {label: 'observed', data: toXY(observed), order: 1, borderColor: '#808080', borderWidth: 1,
     pointStyle: 'rect', pointRadius: 3.5, pointBorderWidth: 0, pointBackgroundColor: '#000'},
    {label: 'difference', data: toXY(difference), order: 2, borderColor: GRN, borderWidth: 1.5, pointRadius: 0},
    {label: 'MoH ticks', data: atY(mohTickX, 2.60), order: 3, showLine: false, pointStyle: 'line', pointRotation: 90,
     pointRadius: 10, pointBorderWidth: 3, pointBorderColor: '#000'},
    {label: 'ice ticks', data: atY(iceTickX, 0.50), order: 3, showLine: false, pointStyle: 'line', pointRotation: 90,
     pointRadius: 10, pointBorderWidth: 3, pointBorderColor: '#0000cc'}
  ]},
  options: {
    responsive: false, animation: false, devicePixelRatio: 1, events: [],
    layout: {padding: {top: 10, right: 13, bottom: 0, left: 0}},
    plugins: {legend: {display: false}, tooltip: {enabled: false}},
    scales: {
      x: {type: 'linear', min: 30, max: 95,
          afterBuildTicks: s => { s.ticks = xMajorTicks.map(v => ({value: v})); },
          afterFit: s => { s.height = 116; s.paddingLeft = 0; s.paddingRight = 0; },
          grid: {display: false, drawTicks: false}, border: {display: false},
          ticks: {font: {size: 32, family: SANS}, color: '#000', padding: 12, maxRotation: 0, autoSkip: false}},
      y: yScale()
    }
  },
  plugins: [makeDeco(botSpec)]
});
</script></body></html>
